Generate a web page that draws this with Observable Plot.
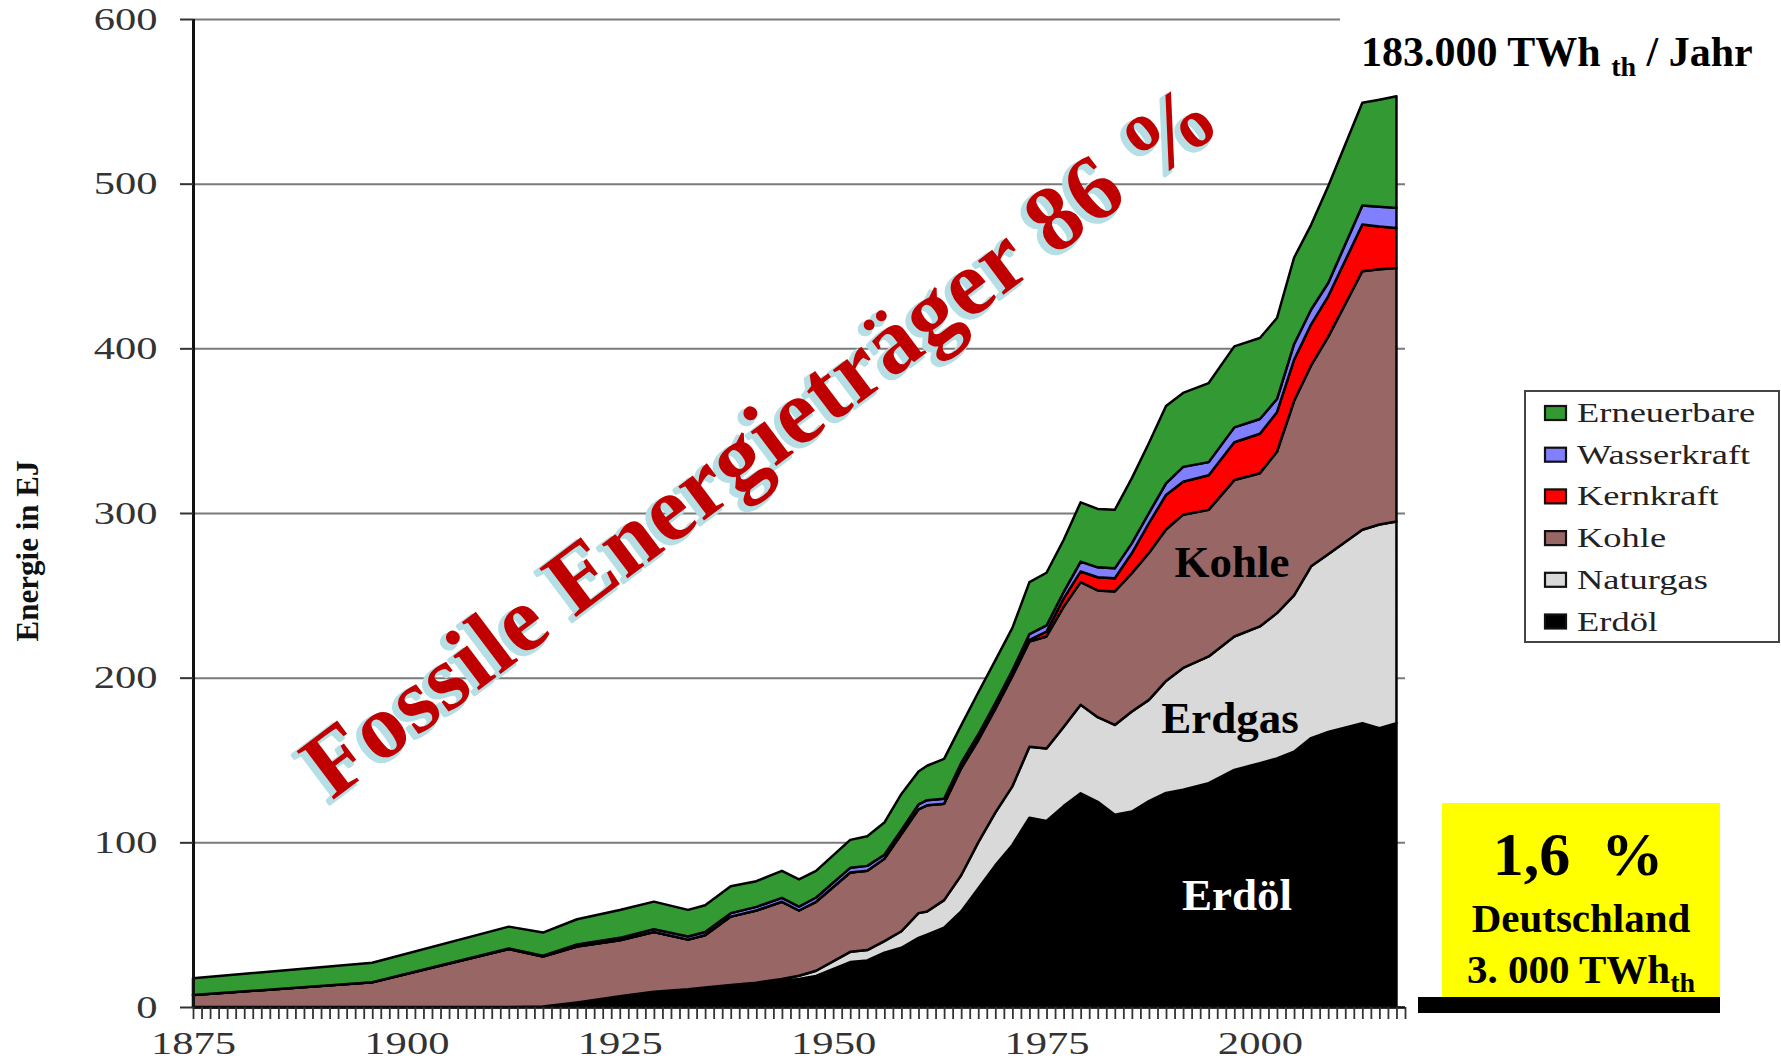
<!DOCTYPE html>
<html>
<head>
<meta charset="utf-8">
<script src="https://cdn.jsdelivr.net/npm/d3@7"></script>
<script src="https://cdn.jsdelivr.net/npm/@observablehq/plot@0.6"></script>
<style>
  html, body { margin: 0; padding: 0; background: #fff; }
  #wrap { position: relative; width: 1781px; height: 1064px; overflow: hidden; background: #fff; }
  #chart { position: absolute; left: 0; top: 0; }
  #overlay { position: absolute; left: 0; top: 0; pointer-events: none; }
</style>
</head>
<body>
<div id="wrap">
  <div id="chart"></div>
  <svg id="overlay" width="1781" height="1064" xmlns="http://www.w3.org/2000/svg"></svg>
</div>
<script>
// ---- data (EJ) ----
const years = [1875,1896,1912,1916,1920,1925,1929,1933,1935,1938,1941,1944,1946,1948,
  1952,1954,1956,1958,1960,1961,1963,1965,1967,1969,1971,1973,
  1975,1977,1979,1981,1983,1985,1987,1989,1991,
  1994,1997,2000,2002,2004,2006,2008,2012,2014,2016];
const erdoel = [0,0,0,0.3,2.6,6.0,8.8,10.0,11.0,12.5,14.0,16.0,17.0,18.9,
  27.3,28.3,33.0,36.0,42.0,44.0,48.2,58.0,72.0,86.0,98.4,115,
  113,122,129.8,124.6,116.7,118.7,125,130,131.9,
  135.9,144,148.1,151,155,163.3,167,172.4,169.3,172.4];
const naturgas = [0,0,0,0,0.2,0.5,0.5,0.8,0.8,0.8,0.8,1.0,2.0,3.1,
  6.2,6.3,7.0,10.0,15.0,14.0,16.7,22.0,28.0,32.0,35.6,43.0,
  44.0,48.0,53.7,51.4,54.6,60.7,61.5,68.0,74.0,
  77.0,81.0,83.0,88.2,95.0,104.3,108.0,117.4,123.7,122.5];
const kohle = [7.3,15.0,35.2,30.3,33.9,34.0,36.2,30.1,31.8,41.6,43.8,46.9,39.6,41.9,
  48.2,48.1,50.0,59.0,63.0,64.5,58.6,65.0,62.0,63.0,66.9,64.0,
  68.0,73.0,74.5,77.0,81.1,84.1,89.2,92.0,93.1,
  89.0,95.0,93.0,98.0,118.0,122.0,132.0,157.0,155.0,153.9];
const kernkraft = [0,0,0,0,0,0,0,0,0,0,0,0,0,0,
  0,0,0,0,0,0,0,0.2,0.5,0.5,0.6,1.0,
  3.0,5.0,6.5,8.0,8.0,12.2,18.2,21.0,20.0,
  21.0,23.0,24.0,24.0,25.0,25.0,24.6,28.4,26.0,24.3];
const wasserkraft = [0,0,0.3,0.6,1.3,1.5,1.8,1.9,1.9,2.1,2.2,2.4,2.4,2.6,
  2.8,3.0,2.5,2.5,3.0,3.1,3.0,3.0,3.0,3.0,3.0,3.5,
  3.7,4.0,6.0,6.0,6.0,6.0,6.1,7.0,9.0,
  8.0,9.0,9.0,8.0,9.5,9.0,8.1,11.5,12.0,12.2];
const erneuerbare = [10.1,11.9,13.3,14.0,15.3,16.9,16.7,16.2,16.3,16.3,15.6,16.4,16.5,16.2,
  17.0,18.0,19.5,21.9,20.0,20.9,24.2,22.8,25.5,26.0,25.7,31.5,
  32.0,31.6,36.0,35.5,35.5,39.5,42.5,47.0,44.9,
  48.0,49.2,49.2,49.2,52.5,51.4,58.7,62.4,65.0,67.8];

const seriesNames = ["Erdöl","Naturgas","Kohle","Kernkraft","Wasserkraft","Erneuerbare"];
const seriesColors = ["#000000","#d9d9d9","#996666","#ff0000","#8080ff","#339933"];
const legendOrder = ["Erneuerbare","Wasserkraft","Kernkraft","Kohle","Naturgas","Erdöl"];
const yTicks = [0,100,200,300,400,500,600];
const xTicks = d3.range(1875, 2018);

const columns = [erdoel, naturgas, kohle, kernkraft, wasserkraft, erneuerbare];
const rows = [];
years.forEach((yr, i) => columns.forEach((col, j) => rows.push({year: yr, series: seriesNames[j], value: col[i]})));

const chart = Plot.plot({
  width: 1781, height: 1064,
  marginLeft: 193, marginRight: 376, marginTop: 19, marginBottom: 57,
  x: {domain: [1875, 2017]},
  y: {domain: [0, 600]},
  color: {domain: seriesNames, range: seriesColors},
  style: {fontFamily: "'Liberation Serif', 'Times New Roman', serif", fontSize: "32px", color: "#333", background: "transparent", overflow: "visible"},
  marks: [
    Plot.gridY(yTicks, {stroke: "#7a7a7a", strokeOpacity: 1, strokeWidth: 2}),
    Plot.areaY(rows, {x: "year", y: "value", z: "series", fill: "series", order: seriesNames,
      stroke: "#000", strokeWidth: 2.5, strokeLinejoin: "round"}),
    Plot.ruleX([1875], {stroke: "#111", strokeWidth: 3}),
    Plot.ruleY([0], {stroke: "#111", strokeWidth: 2.5}),
    Plot.axisY(yTicks, {tickSize: 13, tickPadding: 23, fontSize: 32, strokeWidth: 2, label: null}),
    Plot.axisX(xTicks, {tickSize: 12, tickPadding: 12, fontSize: 32, strokeWidth: 1.8, label: null,
      tickFormat: d => (d % 25 === 0 ? String(d) : "")})
  ]
});
document.getElementById("chart").appendChild(chart);

// horizontally stretched native chart text (the source chart is stretched)
function stretch(el, f) {
  const w = el.getComputedTextLength();
  if (w > 0) { el.setAttribute("textLength", (w * f).toFixed(1)); el.setAttribute("lengthAdjust", "spacingAndGlyphs"); }
}
chart.querySelectorAll("text").forEach(t => stretch(t, 1.33));

// ---- overlay: legend, annotations ----
const NS = "http://www.w3.org/2000/svg";
const ov = document.getElementById("overlay");
function el(tag, attrs, text, parent) {
  const e = document.createElementNS(NS, tag);
  for (const k in attrs) e.setAttribute(k, attrs[k]);
  if (text != null) e.textContent = text;
  (parent || ov).appendChild(e);
  return e;
}
const serif = "'Liberation Serif', 'Times New Roman', serif";

// title with white background (covers the end of the top gridline)
el("rect", {x: 1340, y: 0, width: 441, height: 92, fill: "#fff"});
const title = el("text", {x: 1361, y: 66, "font-family": serif, "font-weight": "bold", "font-size": 42, fill: "#000"});
el("tspan", {}, "183.000 TWh ", title);
el("tspan", {"font-size": 28, dy: 10}, "th", title);
el("tspan", {dy: -10}, " / Jahr", title);

// y axis title
el("text", {transform: "translate(38,551) rotate(-90)", "text-anchor": "middle", "font-family": serif,
  "font-weight": "bold", "font-size": 31, fill: "#111"}, "Energie in EJ");

// big rotated label
const g = el("g", {});
el("text", {transform: "translate(775,468) rotate(-37)", "text-anchor": "middle", "font-family": serif,
  "font-weight": "bold", "font-size": 93, fill: "#b5dfe4", stroke: "#b5dfe4", "stroke-width": 4,
  "stroke-linejoin": "round", "letter-spacing": 1.5}, "Fossile Energieträger 86 %", g);
el("text", {transform: "translate(779,464) rotate(-37)", "text-anchor": "middle", "font-family": serif,
  "font-weight": "bold", "font-size": 93, fill: "#c00000", "letter-spacing": 1.5}, "Fossile Energieträger 86 %", g);

// layer labels
el("text", {x: 1232, y: 577, "text-anchor": "middle", "font-family": serif, "font-weight": "bold", "font-size": 45, fill: "#000"}, "Kohle");
el("text", {x: 1230, y: 733, "text-anchor": "middle", "font-family": serif, "font-weight": "bold", "font-size": 45, fill: "#000"}, "Erdgas");
el("text", {x: 1237, y: 910, "text-anchor": "middle", "font-family": serif, "font-weight": "bold", "font-size": 45, fill: "#fff"}, "Erdöl");

// legend
el("rect", {x: 1525, y: 391, width: 254, height: 251, fill: "#fff", stroke: "#444", "stroke-width": 2});
legendOrder.forEach((name, i) => {
  const cy = 413 + i * 41.7;
  el("rect", {x: 1545, y: cy - 7, width: 21, height: 14, fill: seriesColors[seriesNames.indexOf(name)], stroke: "#111", "stroke-width": 2.2});
  const t = el("text", {x: 1577, y: cy + 9, "font-family": serif, "font-size": 27, fill: "#222"}, name);
  stretch(t, 1.35);
});

// yellow box
el("rect", {x: 1442, y: 803, width: 278, height: 196, fill: "#ffff00"});
el("rect", {x: 1418, y: 997, width: 302, height: 16, fill: "#000"});
el("text", {x: 1578, y: 875, "text-anchor": "middle", "font-family": serif, "font-weight": "bold", "font-size": 62, fill: "#000", style: "white-space:pre"}, "1,6  %");
el("text", {x: 1581, y: 932, "text-anchor": "middle", "font-family": serif, "font-weight": "bold", "font-size": 41, fill: "#000"}, "Deutschland");
const de = el("text", {x: 1581, y: 983, "text-anchor": "middle", "font-family": serif, "font-weight": "bold", "font-size": 41, fill: "#000"});
el("tspan", {}, "3. 000 TWh", de);
el("tspan", {"font-size": 28, dy: 9}, "th", de);
</script>
</body>
</html>
